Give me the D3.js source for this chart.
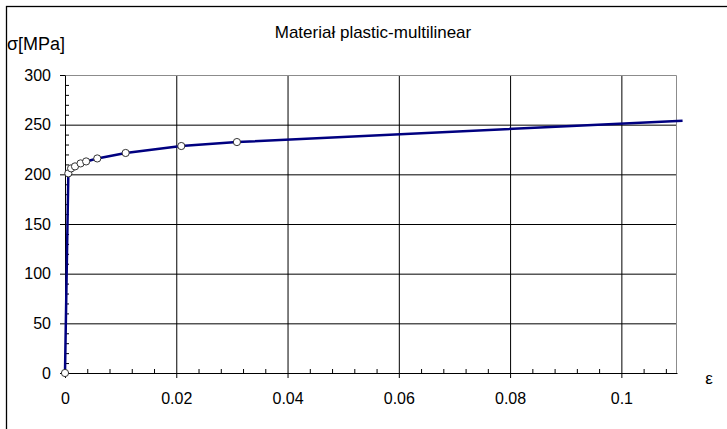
<!DOCTYPE html>
<html>
<head>
<meta charset="utf-8">
<script src="https://cdn.jsdelivr.net/npm/d3@7"></script>
<style>
body { margin: 0; background: #fff; }
text { font-family: "Liberation Sans", Arial, sans-serif; fill: #000; }
</style>
</head>
<body>
<div class="stress-strain__container"></div>
<script>
//data
const strain = [0, 0.0006, 0.0011, 0.0018, 0.0028, 0.0038, 0.0058, 0.0109, 0.0209, 0.0309, 0.111];
const stress = [0, 201, 206, 208, 211, 213, 216, 221.5, 228.5, 232.5, 254];
const markedPoints = 10; // last point is off the axis, no marker

const xTickValues = [0, 0.02, 0.04, 0.06, 0.08, 0.1];
const xTickLabels = ['0', '0.02', '0.04', '0.06', '0.08', '0.1'];
const yTickValues = [0, 50, 100, 150, 200, 250, 300];
const xDomain = [0, 0.11];
const yDomain = [0, 300];

const titleText = 'Materiał plastic-multilinear';
const yTitleText = 'σ[MPa]';
const xTitleText = 'ε';

//d3 chart
const defineChart = () => {
    const width = 727;
    const height = 429;
    const margin = { top: 75, right: 50, bottom: 56, left: 65 };
    const widthChart = width - margin.left - margin.right;
    const heightChart = height - margin.top - margin.bottom;

    const points = strain.map((d, i) => ({ x: d, y: stress[i] }));

    //Scales
    const xScale = d3.scaleLinear().domain(xDomain).range([0, widthChart]);
    const yScale = d3.scaleLinear().domain(yDomain).range([heightChart, 0]);

    const lineGenerator = d3.line()
        .x(d => xScale(d.x))
        .y(d => yScale(d.y));

    const root = d3.select('.stress-strain__container')
        .append('svg')
        .attr('width', width)
        .attr('height', height);

    // outer frame
    root.append('rect')
        .attr('x', 6.5)
        .attr('y', 6.5)
        .attr('width', width + 20)
        .attr('height', height + 20)
        .style('fill', 'none')
        .style('stroke', '#000')
        .style('stroke-width', 1.3);

    // header
    root.append('text')
        .attr('x', 373)
        .attr('y', 32)
        .attr('text-anchor', 'middle')
        .attr('dominant-baseline', 'central')
        .style('font-size', '17px')
        .text(titleText);

    root.append('text')
        .attr('x', 7)
        .attr('y', 44)
        .attr('dominant-baseline', 'central')
        .style('font-size', '18px')
        .text(yTitleText);

    const svg = root.append('g')
        .attr('transform', `translate(${margin.left}, ${margin.top})`);

    // grid
    svg.append('g')
        .attr('class', 'grid-x')
        .attr('transform', `translate(0,${heightChart})`)
        .call(d3.axisBottom(xScale).tickValues(xTickValues.slice(1)).tickSize(-heightChart).tickFormat(''))
        .call(g => g.select('.domain').remove())
        .call(g => g.selectAll('line').style('stroke', '#000'));

    svg.append('g')
        .attr('class', 'grid-y')
        .call(d3.axisLeft(yScale).tickValues(yTickValues.slice(1, -1)).tickSize(-widthChart).tickFormat(''))
        .call(g => g.select('.domain').remove())
        .call(g => g.selectAll('line').style('stroke', '#000'));

    // plot area border (top, right)
    svg.append('path')
        .attr('d', `M0,0.5H${widthChart - 0.5}V${heightChart}`)
        .style('fill', 'none')
        .style('stroke', '#8c8c8c');

    // minor ticks
    const xMinor = d3.range(0.004, xDomain[1], 0.004).filter(v => Math.abs(v / 0.02 - Math.round(v / 0.02)) > 1e-6);
    const yMinor = d3.range(10, yDomain[1], 10).filter(v => v % 50 !== 0);

    svg.append('g')
        .attr('transform', `translate(0,${heightChart})`)
        .call(d3.axisBottom(xScale).tickValues(xMinor).tickSize(-4).tickFormat(''))
        .call(g => g.select('.domain').remove());

    svg.append('g')
        .call(d3.axisLeft(yScale).tickValues(yMinor).tickSize(-4).tickFormat(''))
        .call(g => g.select('.domain').remove());

    // draw x axes
    const xAxis = d3.axisBottom(xScale)
        .tickValues(xTickValues)
        .tickFormat((d, i) => xTickLabels[i])
        .tickSize(5)
        .tickSizeOuter(0)
        .tickPadding(15);

    svg.append('g')
        .attr('class', 'x-axis')
        .attr('transform', `translate(0,${heightChart})`)
        .call(xAxis)
        .call(g => g.selectAll('text').style('font-size', '16px').style('font-family', '"Liberation Sans", Arial, sans-serif'));

    const yAxis = d3.axisLeft(yScale)
        .tickValues(yTickValues)
        .tickSize(5)
        .tickSizeOuter(0)
        .tickPadding(9);

    svg.append('g')
        .attr('class', 'y-axis')
        .call(yAxis)
        .call(g => g.selectAll('text').style('font-size', '16px').style('font-family', '"Liberation Sans", Arial, sans-serif'));

    root.append('text')
        .attr('x', 709)
        .attr('y', 378)
        .attr('text-anchor', 'middle')
        .attr('dominant-baseline', 'central')
        .style('font-size', '17px')
        .text(xTitleText);

    // draw series
    svg.append('path')
        .attr('class', 'line-series')
        .attr('d', lineGenerator(points))
        .style('fill', 'none')
        .style('stroke', '#000080')
        .style('stroke-width', 2.5);

    svg.append('g')
        .selectAll('circle')
        .data(points.slice(0, markedPoints))
        .enter()
        .append('circle')
        .attr('cx', d => xScale(d.x))
        .attr('cy', d => yScale(d.y))
        .attr('r', 3.6)
        .style('fill', '#fff')
        .style('stroke', '#333')
        .style('stroke-width', 1);
}

defineChart();
</script>
</body>
</html>
